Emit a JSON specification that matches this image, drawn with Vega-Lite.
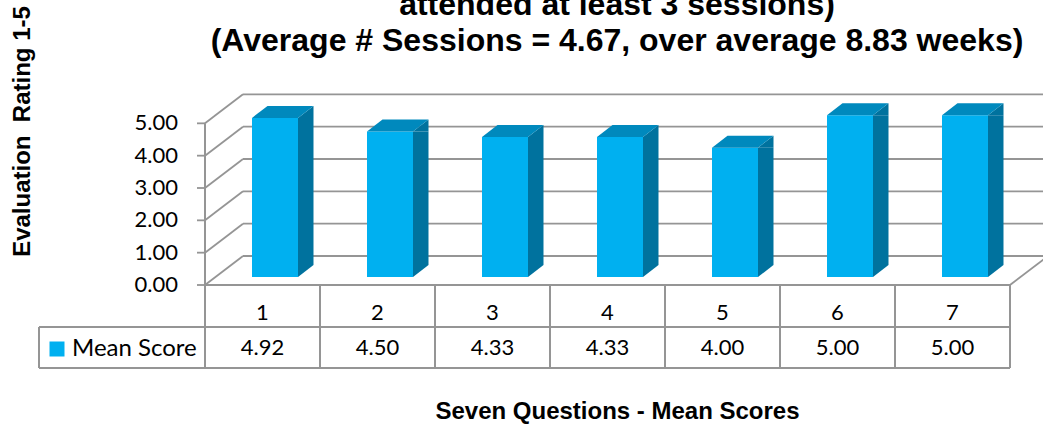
{
  "$schema": "https://vega.github.io/schema/vega-lite/v6.json",
  "width": 838,
  "height": 194,
  "autosize": {"type": "none"},
  "padding": {"left": 205, "top": 91, "right": 0, "bottom": 140},
  "background": "white",
  "config": {"view": {"stroke": null}, "font": "Liberation Sans"},
  "title": {
    "text": ["attended at least 3 sessions)", "(Average # Sessions = 4.67, over average 8.83 weeks)"],
    "font": "Liberation Sans",
    "fontSize": 32,
    "fontWeight": "bold",
    "color": "#000000",
    "anchor": "middle",
    "frame": "group",
    "lineHeight": 36,
    "offset": 0,
    "dx": -7,
    "dy": 52
  },
  "datasets": {
    "scores": [
      {"question": 1, "series": "Mean Score", "score": 4.92},
      {"question": 2, "series": "Mean Score", "score": 4.50},
      {"question": 3, "series": "Mean Score", "score": 4.33},
      {"question": 4, "series": "Mean Score", "score": 4.33},
      {"question": 5, "series": "Mean Score", "score": 4.00},
      {"question": 6, "series": "Mean Score", "score": 5.00},
      {"question": 7, "series": "Mean Score", "score": 5.00}
    ],
    "levels": [
      {"level": 0}, {"level": 1}, {"level": 2}, {"level": 3}, {"level": 4}, {"level": 5}
    ],
    "frame": [{}]
  },
  "data": {"name": "scores"},
  "layer": [
    {
      "description": "back wall gridlines",
      "data": {"name": "levels"},
      "mark": {"type": "rule", "color": "#959595", "strokeWidth": 1.8, "xOffset": 38, "x2Offset": 38, "yOffset": -29},
      "encoding": {
        "x": {
          "datum": 0.5, "type": "quantitative",
          "scale": {"domain": [0.5, 7.787], "nice": false, "zero": false},
          "axis": {
            "labels": false, "ticks": false, "domain": false, "grid": false,
            "title": "Seven Questions - Mean Scores",
            "titleFont": "Liberation Sans", "titleFontSize": 24, "titleFontWeight": "bold", "titleColor": "#000000",
            "titleX": 412, "titleY": 126, "titleAlign": "center", "titleBaseline": "middle"
          }
        },
        "x2": {"datum": 8.3},
        "y": {
          "field": "level", "type": "quantitative",
          "scale": {"domain": [0, 6], "nice": false, "zero": false},
          "axis": {
            "labels": false, "ticks": false, "domain": false, "grid": false,
            "title": "Evaluation\u00a0 Rating 1-5",
            "titleFont": "Liberation Sans", "titleFontSize": 24, "titleFontWeight": "bold", "titleColor": "#000000",
            "titleAngle": 270, "titleX": -183, "titleY": 40, "titleAlign": "center", "titleBaseline": "middle"
          }
        }
      }
    },
    {
      "description": "side wall gridlines running back from the front axis",
      "data": {"name": "levels"},
      "mark": {"type": "rule", "color": "#959595", "strokeWidth": 1.8, "x2Offset": 38, "y2Offset": -29},
      "encoding": {
        "x": {"datum": 0.5, "type": "quantitative"},
        "x2": {"datum": 0.5},
        "y": {"field": "level", "type": "quantitative"},
        "y2": {"field": "level"}
      }
    },
    {
      "description": "value axis tick marks",
      "data": {"name": "levels"},
      "mark": {"type": "rule", "color": "#959595", "strokeWidth": 1.8, "x2Offset": -8},
      "encoding": {
        "x": {"datum": 0.5, "type": "quantitative"},
        "x2": {"datum": 0.5},
        "y": {"field": "level", "type": "quantitative"}
      }
    },
    {
      "description": "value axis labels",
      "data": {"name": "levels"},
      "mark": {"type": "text", "font": "Lato", "fontSize": 22, "color": "#000000", "align": "right", "baseline": "middle", "xOffset": -27},
      "encoding": {
        "x": {"datum": 0.5, "type": "quantitative"},
        "y": {"field": "level", "type": "quantitative"},
        "text": {"field": "level", "type": "quantitative", "format": ".2f"}
      }
    },
    {
      "description": "right edge of the floor",
      "data": {"name": "frame"},
      "mark": {"type": "rule", "color": "#959595", "strokeWidth": 1.8, "x2Offset": 38, "y2Offset": -29},
      "encoding": {
        "x": {"datum": 7.5, "type": "quantitative"},
        "x2": {"datum": 7.5},
        "y": {"datum": 0, "type": "quantitative"},
        "y2": {"datum": 0}
      }
    },
    {
      "description": "front value axis line, continuing as the table's first column line",
      "data": {"name": "frame"},
      "mark": {"type": "rule", "color": "#959595", "strokeWidth": 2},
      "encoding": {
        "x": {"datum": 0.5, "type": "quantitative"},
        "y": {"datum": 5, "type": "quantitative"},
        "y2": {"datum": -2.567}
      }
    },
    {
      "description": "bar side faces",
      "mark": {"type": "rect", "color": "#00729e", "xOffset": 35.5, "x2Offset": 51, "yOffset": -8, "y2Offset": -20},
      "encoding": {
        "x": {"field": "question", "type": "quantitative"},
        "x2": {"field": "question"},
        "y": {"field": "score", "type": "quantitative"},
        "y2": {"datum": 0}
      }
    },
    {
      "description": "bar side faces, upper slant",
      "mark": {"type": "point", "shape": "M35.5,-8L51,-20L51,-8Z", "size": 4, "filled": true, "opacity": 1, "color": "#00729e", "strokeWidth": 0},
      "encoding": {
        "x": {"field": "question", "type": "quantitative"},
        "y": {"field": "score", "type": "quantitative"}
      }
    },
    {
      "description": "bar side faces, lower slant",
      "mark": {"type": "point", "shape": "M35.5,-20L35.5,-8L51,-20Z", "size": 4, "filled": true, "opacity": 1, "color": "#00729e", "strokeWidth": 0},
      "encoding": {
        "x": {"field": "question", "type": "quantitative"},
        "y": {"datum": 0, "type": "quantitative"}
      }
    },
    {
      "description": "bar front faces",
      "mark": {"type": "rect", "xOffset": -10.5, "x2Offset": 35.5, "yOffset": -8, "y2Offset": -8},
      "encoding": {
        "x": {"field": "question", "type": "quantitative"},
        "x2": {"field": "question"},
        "y": {"field": "score", "type": "quantitative"},
        "y2": {"datum": 0},
        "color": {
          "field": "series", "type": "nominal",
          "scale": {"range": ["#00b0f0"]},
          "legend": {
            "orient": "none", "legendX": -160, "legendY": 246, "title": null,
            "symbolType": "square", "symbolSize": 225, "symbolStrokeWidth": 0,
            "labelFont": "Lato", "labelFontSize": 24, "labelColor": "#000000",
            "labelOffset": 3, "padding": 0, "rowPadding": 0
          }
        }
      }
    },
    {
      "description": "bar top faces",
      "mark": {"type": "point", "shape": "M-10.5,-8L35.5,-8L51,-20L5,-20Z", "size": 4, "filled": true, "opacity": 1, "color": "#0089bd", "strokeWidth": 0},
      "encoding": {
        "x": {"field": "question", "type": "quantitative"},
        "y": {"field": "score", "type": "quantitative"}
      }
    },
    {
      "description": "table: floor front edge / top border",
      "data": {"name": "frame"},
      "mark": {"type": "rule", "color": "#959595", "strokeWidth": 2},
      "encoding": {
        "x": {"datum": 0.5, "type": "quantitative"},
        "x2": {"datum": 7.5},
        "y": {"datum": 0, "type": "quantitative"}
      }
    },
    {
      "description": "table: line between header row and value row",
      "data": {"name": "frame"},
      "mark": {"type": "rule", "color": "#959595", "strokeWidth": 2},
      "encoding": {
        "x": {"datum": -0.9435, "type": "quantitative"},
        "x2": {"datum": 7.5},
        "y": {"datum": -1.299, "type": "quantitative"}
      }
    },
    {
      "description": "table: bottom border",
      "data": {"name": "frame"},
      "mark": {"type": "rule", "color": "#959595", "strokeWidth": 2},
      "encoding": {
        "x": {"datum": -0.9435, "type": "quantitative"},
        "x2": {"datum": 7.5},
        "y": {"datum": -2.567, "type": "quantitative"}
      }
    },
    {
      "description": "table: left border of the legend cell",
      "data": {"name": "frame"},
      "mark": {"type": "rule", "color": "#959595", "strokeWidth": 2},
      "encoding": {
        "x": {"datum": -0.9435, "type": "quantitative"},
        "y": {"datum": -1.299, "type": "quantitative"},
        "y2": {"datum": -2.567}
      }
    },
    {
      "description": "table: column dividers",
      "mark": {"type": "rule", "color": "#959595", "strokeWidth": 2, "xOffset": 57.5},
      "encoding": {
        "x": {"field": "question", "type": "quantitative"},
        "y": {"datum": 0, "type": "quantitative"},
        "y2": {"datum": -2.567}
      }
    },
    {
      "description": "table: question numbers",
      "mark": {"type": "text", "font": "Lato", "fontSize": 22, "color": "#000000", "align": "center", "baseline": "middle"},
      "encoding": {
        "x": {"field": "question", "type": "quantitative"},
        "y": {"datum": -0.866, "type": "quantitative"},
        "text": {"field": "question", "type": "nominal"}
      }
    },
    {
      "description": "table: mean scores",
      "mark": {"type": "text", "font": "Lato", "fontSize": 22, "color": "#000000", "align": "center", "baseline": "middle"},
      "encoding": {
        "x": {"field": "question", "type": "quantitative"},
        "y": {"datum": -1.949, "type": "quantitative"},
        "text": {"field": "score", "type": "quantitative", "format": ".2f"}
      }
    }
  ]
}
